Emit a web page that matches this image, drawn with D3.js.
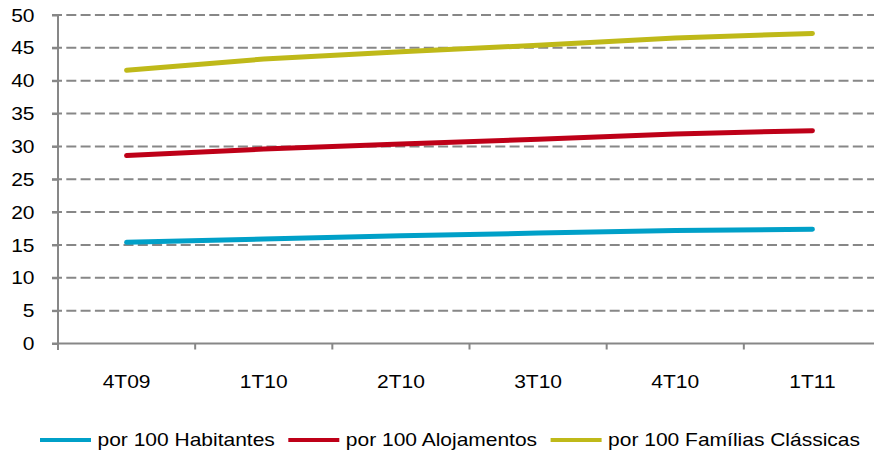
<!DOCTYPE html>
<html>
<head>
<meta charset="utf-8">
<script src="https://cdn.jsdelivr.net/npm/d3@7"></script>
<style>
  html, body { margin: 0; padding: 0; background: #fff; }
  svg { display: block; font-family: "Liberation Sans", Arial, sans-serif; }
</style>
</head>
<body>
<svg id="chart" width="874" height="457"></svg>
<script>
// Quarters on the horizontal axis
const quarters = ["4T09", "1T10", "2T10", "3T10", "4T10", "1T11"];

// Ratios per quarter
const porHabitantes = [15.4, 15.9, 16.4, 16.8, 17.2, 17.4];
const porAlojamentos = [28.6, 29.6, 30.35, 31.1, 31.9, 32.4];
const porFamilias = [41.6, 43.3, 44.4, 45.4, 46.5, 47.2];

// Y-axis tick values
const yTicks = [0, 5, 10, 15, 20, 25, 30, 35, 40, 45, 50];

const seriesNames = ["por 100 Habitantes", "por 100 Alojamentos", "por 100 Famílias Clássicas"];
const seriesColors = ["#00a0c8", "#be0018", "#bfb919"];
const seriesValues = [porHabitantes, porAlojamentos, porFamilias];

const series = seriesNames.map((name, i) => ({ name, color: seriesColors[i], values: seriesValues[i] }));

const svg = d3.select("#chart");
const plotLeft = 58, plotRight = 881, plotTop = 15, plotBottom = 343.5;
const fontSize = 17.5, stretch = 1.2;
const axisGray = "#878787";

const x = d3.scaleBand().domain(quarters).range([plotLeft, plotRight]).paddingInner(0).paddingOuter(0);
const bw = x.bandwidth();
const y = d3.scaleLinear().domain([0, 50]).range([plotBottom, plotTop]);

// Dashed horizontal gridlines
svg.append("g")
  .selectAll("line")
  .data(yTicks.filter(t => t > 0))
  .join("line")
  .attr("x1", plotLeft - 6)
  .attr("x2", 874)
  .attr("y1", d => y(d))
  .attr("y2", d => y(d))
  .attr("stroke", axisGray)
  .attr("stroke-width", 2)
  .attr("stroke-dasharray", "10,4.3");

// Y axis
const yAxis = svg.append("g")
  .attr("transform", `translate(${plotLeft},0)`)
  .call(d3.axisLeft(y).tickValues(yTicks).tickSize(6).tickPadding(0).tickFormat(d3.format("d")));
yAxis.select(".domain").attr("stroke", axisGray).attr("stroke-width", 2)
  .attr("d", `M0,${plotTop}V${plotBottom + 6.5}`);
yAxis.selectAll(".tick line").attr("stroke", axisGray).attr("stroke-width", 2);
yAxis.selectAll(".tick text")
  .attr("x", 0).attr("dy", "0.35em")
  .attr("transform", `translate(-23.5,0) scale(${stretch},1)`)
  .attr("font-size", fontSize)
  .attr("font-family", "Liberation Sans, Arial, sans-serif")
  .attr("fill", "#000")
  .attr("text-anchor", "end");

// X axis: ticks sit on category boundaries, labels in the middle
const xAxis = svg.append("g")
  .attr("transform", `translate(0,${plotBottom})`)
  .call(d3.axisBottom(x).tickSize(6).tickPadding(0));
xAxis.select(".domain").attr("stroke", axisGray).attr("stroke-width", 2)
  .attr("d", `M${plotLeft - 6},0H874`);
xAxis.selectAll(".tick line")
  .attr("x1", -bw / 2).attr("x2", -bw / 2)
  .attr("stroke", axisGray).attr("stroke-width", 2);
xAxis.selectAll(".tick text")
  .attr("y", 0).attr("dy", 0)
  .attr("transform", `translate(0,44) scale(${stretch},1)`)
  .attr("font-size", fontSize)
  .attr("font-family", "Liberation Sans, Arial, sans-serif")
  .attr("fill", "#000");

// Series lines
const line = d3.line()
  .x((d, i) => x(quarters[i]) + bw / 2)
  .y(d => y(d));

svg.append("g")
  .selectAll("path")
  .data(series)
  .join("path")
  .attr("d", d => line(d.values))
  .attr("fill", "none")
  .attr("stroke", d => d.color)
  .attr("stroke-width", 5)
  .attr("stroke-linecap", "round")
  .attr("stroke-linejoin", "round");

// Legend
const legend = svg.append("g").attr("transform", "translate(40,440)");
let lx = 0;
series.forEach(s => {
  const item = legend.append("g").attr("transform", `translate(${lx},0)`);
  item.append("line")
    .attr("x1", 0).attr("x2", 51)
    .attr("y1", 0).attr("y2", 0)
    .attr("stroke", s.color).attr("stroke-width", 4);
  const t = item.append("text")
    .attr("transform", `translate(57.5,0) scale(${stretch},1)`)
    .attr("dy", "0.35em")
    .attr("font-size", fontSize)
    .attr("fill", "#000")
    .text(s.name);
  const w = t.node().getComputedTextLength() * stretch;
  lx += 57.5 + w + 13.5;
});
</script>
</body>
</html>
